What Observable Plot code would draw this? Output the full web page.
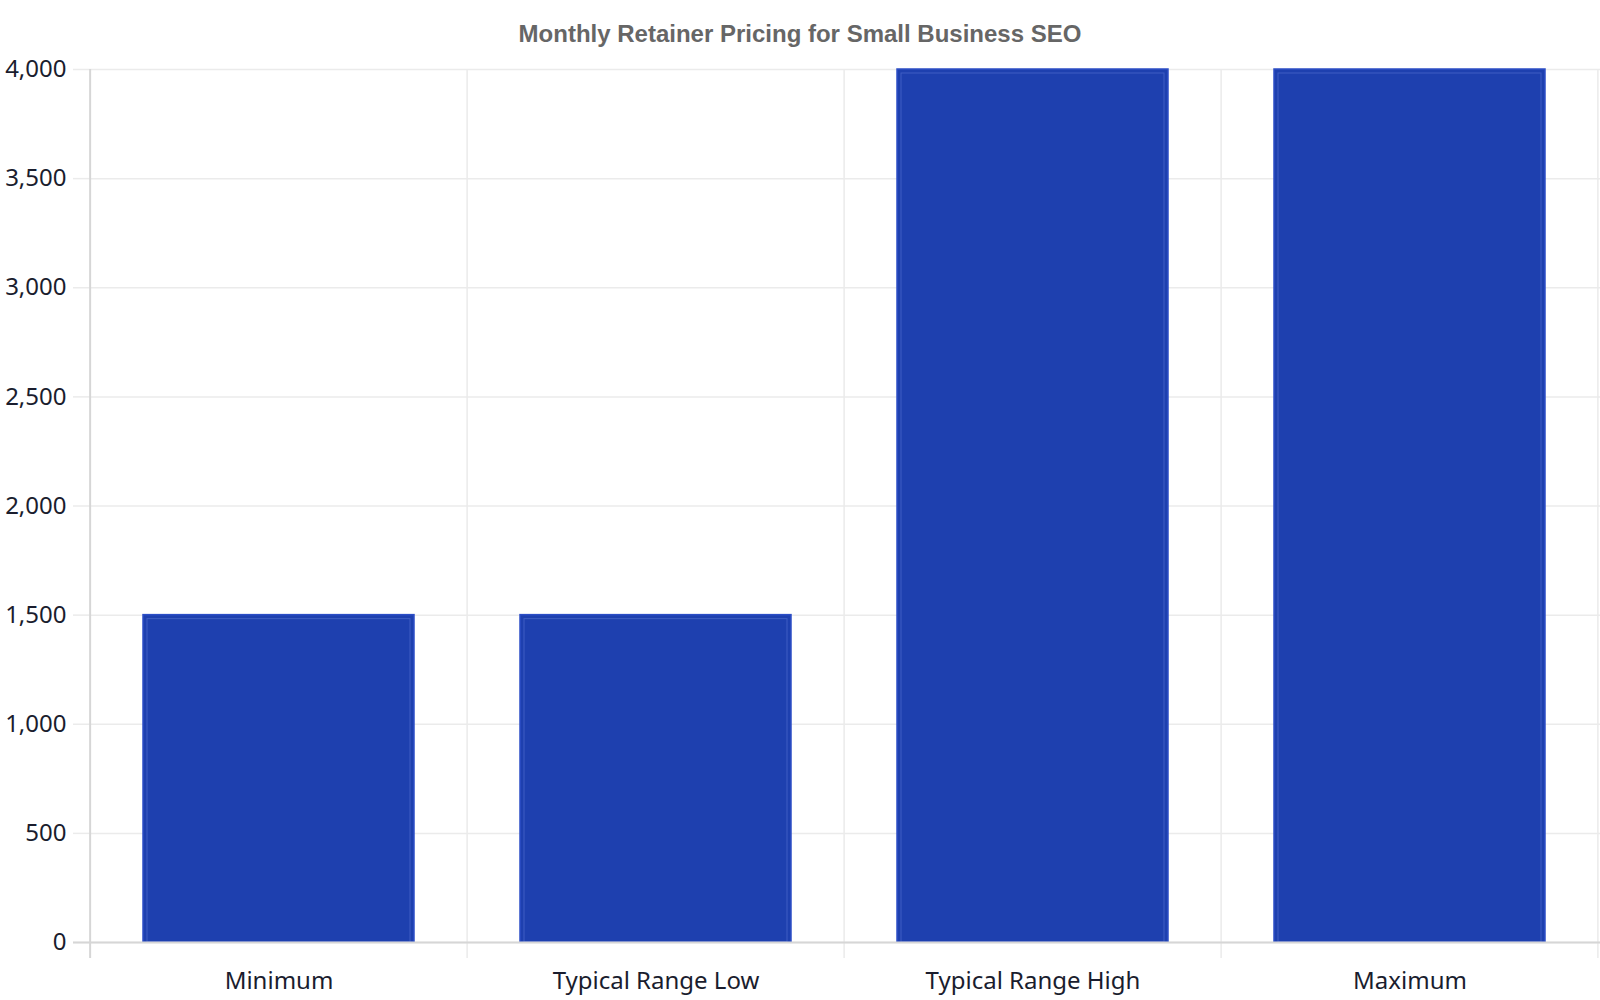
<!DOCTYPE html>
<html>
<head>
<meta charset="utf-8">
<script src="https://cdn.jsdelivr.net/npm/d3@7"></script>
<script src="https://cdn.jsdelivr.net/npm/@observablehq/plot@0.6"></script>
<style>
  html, body { margin: 0; padding: 0; background: #fff; }
  #title { box-sizing: border-box; height: 50px; padding-top: 22px; line-height: 24px; text-align: center;
    font-family: "Liberation Sans", Arial, sans-serif; font-weight: bold; font-size: 24px; color: #666; }
  svg { display: block; }
</style>
</head>
<body>
<div id="title">Monthly Retainer Pricing for Small Business SEO</div>
<div id="chart"></div>
<script>
const categories = ["Minimum", "Typical Range Low", "Typical Range High", "Maximum"];
const prices = [1500, 1500, 4000, 4000];
const yTicks = [0, 500, 1000, 1500, 2000, 2500, 3000, 3500, 4000];

const data = categories.map((c, i) => ({category: c, price: prices[i]}));

const W = 1600, H = 950, mL = 89, mR = 0, mT = 19, mB = 58;
const half = (W - mL - mR) / categories.length / 2;

const chart = Plot.plot({
  width: W,
  height: H,
  marginLeft: mL,
  marginRight: mR,
  marginTop: mT,
  marginBottom: mB,
  style: {fontFamily: "'Noto Sans', sans-serif", fontSize: "24px", color: "#1a1d2e", background: "#fff"},
  x: {domain: categories, paddingInner: 0.28, paddingOuter: 0.14, label: null},
  y: {domain: [0, 4000], label: null},
  marks: [
    Plot.gridY(yTicks, {stroke: "#ebebeb", strokeOpacity: 1, strokeWidth: 1.5}),
    Plot.ruleX(categories.slice(1), {dx: -half, stroke: "#ebebeb", strokeWidth: 1.5, insetBottom: -16}),
    Plot.ruleX(categories.slice(-1), {dx: half - 1, stroke: "#ebebeb", strokeWidth: 1.5, insetBottom: -16}),
    Plot.axisY(yTicks, {tickSize: 16, tickPadding: 7, stroke: "#ebebeb", strokeWidth: 1.5, tickFormat: d3.format(","), fontSize: 24, fill: "#1a1d2e"}),
    Plot.barY(data, {x: "category", y: "price", fill: "#1e40af", stroke: "#2c4ec6", strokeWidth: 1.5}),
    Plot.barY(data, {x: "category", y: "price", fill: "none", stroke: "#5b76d4", strokeOpacity: 0.55, strokeWidth: 1, insetTop: 4, insetLeft: 4, insetRight: 4}),
    Plot.ruleY([0], {stroke: "#d6d6d6", strokeWidth: 2, insetLeft: -16}),
    Plot.ruleX(categories.slice(0, 1), {dx: -half, stroke: "#d6d6d6", strokeWidth: 2, insetBottom: -16}),
    Plot.axisX({tickSize: 0, tickPadding: 29, fontSize: 24, fill: "#1a1d2e"})
  ]
});
document.getElementById("chart").appendChild(chart);
</script>
</body>
</html>
